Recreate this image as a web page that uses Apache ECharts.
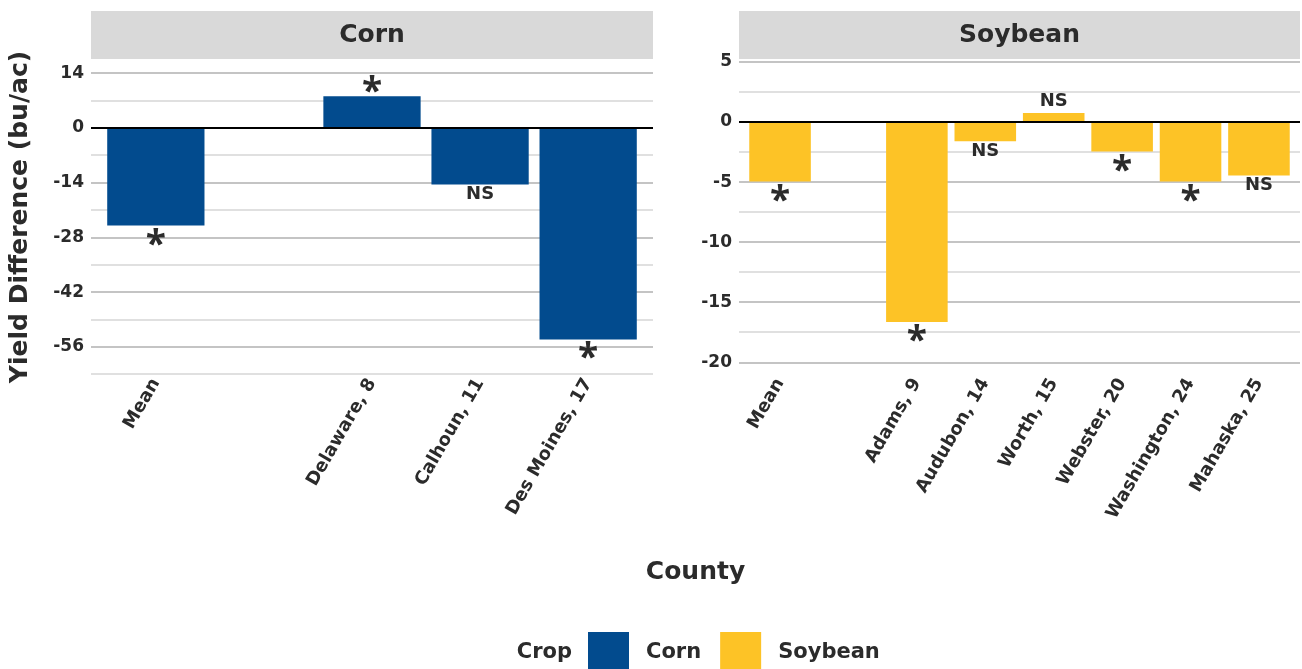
<!DOCTYPE html>
<html>
<head>
<meta charset="utf-8">
<script src="https://cdn.jsdelivr.net/npm/echarts@6/dist/echarts.min.js"></script>
<style>
html,body{margin:0;padding:0;background:#fff;}
#chart{width:1302px;height:669px;}
</style>
</head>
<body>
<div id="chart"></div>
<script>
// ---- data ----
const cornCounties = ['Mean', '', 'Delaware, 8', 'Calhoun, 11', 'Des Moines, 17'];
const cornYield = [-25.0, null, 8.1, -14.5, -54.1];
const cornSig = ['*', '', '*', 'NS', '*'];

const soyCounties = ['Mean', '', 'Adams, 9', 'Audubon, 14', 'Worth, 15', 'Webster, 20', 'Washington, 24', 'Mahaska, 25'];
const soyYield = [-4.95, null, -16.65, -1.6, 0.75, -2.45, -4.95, -4.45];
const soySig = ['*', '', '*', 'NS', 'NS', '*', '*', 'NS'];

const cornMajorTicks = [14, 0, -14, -28, -42, -56];
const cornMinorTicks = [7, -7, -21, -35, -49, -63];
const soyMajorTicks = [5, 0, -5, -10, -15, -20];
const soyMinorTicks = [2.5, -2.5, -7.5, -12.5, -17.5];

const crops = ['Corn', 'Soybean'];
const cropColors = ['#024b8e', '#fdc326'];

// ---- styling ----
const FONT = '"DejaVu Sans", sans-serif';
const STAR_FONT = '"Open Sans", sans-serif';
const TXT = '#2b2b2b';
const panels = [
  {left: 91, width: 562},
  {left: 739, width: 561}
];
const TOP = 59, HEIGHT = 316;
const yRanges = [[-63.2, 17.6], [-21.06, 5.25]];

function gridLines(major, minor) {
  const d = [];
  minor.forEach(v => d.push({yAxis: v, lineStyle: {color: '#d6d6d6', width: 1.5, type: 'solid'}}));
  major.forEach(v => d.push({yAxis: v, lineStyle: {color: '#c4c4c4', width: 2, type: 'solid'}}));
  return d;
}

function barData(values, sig) {
  const out = [];
  values.forEach((v, i) => {
    if (v === null) return;
    const star = sig[i] === '*';
    let pos, dist;
    if (v < 0) { pos = 'bottom'; dist = star ? 2 : 1; }
    else { pos = 'top'; dist = star ? -16 : 3; }
    out.push({
      value: [i, v],
      label: {
        show: true, position: pos, distance: dist,
        formatter: sig[i],
        fontSize: star ? 37 : 18,
        fontWeight: 'bold', fontFamily: star ? STAR_FONT : FONT, color: TXT
      }
    });
  });
  return out;
}

const cats = [cornCounties, soyCounties];
const vals = [cornYield, soyYield];
const sigs = [cornSig, soySig];
const majors = [cornMajorTicks, soyMajorTicks];
const minors = [cornMinorTicks, soyMinorTicks];

const option = {
  animation: false,
  backgroundColor: '#ffffff',
  legend: {
    data: crops,
    left: 588, top: 632, padding: 0,
    orient: 'horizontal',
    icon: 'rect',
    itemWidth: 41, itemHeight: 41,
    itemGap: 19,
    selectedMode: false,
    textStyle: {fontFamily: FONT, fontWeight: 'bold', fontSize: 21, color: TXT, padding: [0, 0, 0, 12]}
  },
  grid: panels.map(p => ({left: p.left, width: p.width, top: TOP, height: HEIGHT, containLabel: false})),
  xAxis: panels.map((p, k) => ({
    type: 'value', gridIndex: k,
    min: -0.6, max: cats[k].length - 0.4,
    axisLine: {show: false}, axisTick: {show: false}, splitLine: {show: false},
    axisLabel: {
      customValues: cats[k].map((c, i) => c ? i : null).filter(i => i !== null),
      formatter: v => cats[k][Math.round(v)] || '',
      rotate: 60, margin: 5,
      fontFamily: FONT, fontWeight: 'bold', fontSize: 18, color: TXT
    }
  })),
  yAxis: panels.map((p, k) => ({
    type: 'value', gridIndex: k,
    min: yRanges[k][0], max: yRanges[k][1],
    name: k === 0 ? 'Yield Difference (bu/ac)' : '',
    nameLocation: 'middle', nameRotate: 90, nameGap: 58,
    nameTextStyle: {fontFamily: FONT, fontWeight: 'bold', fontSize: 25, color: TXT},
    axisLine: {show: false}, axisTick: {show: false}, splitLine: {show: false},
    axisLabel: {
      customValues: majors[k],
      margin: 7,
      fontFamily: FONT, fontWeight: 'bold', fontSize: 17, color: TXT
    }
  })),
  series: []
};

panels.forEach((p, k) => {
  const slot = p.width / (cats[k].length + 0.2);
  option.series.push({
    name: crops[k],
    type: 'bar',
    xAxisIndex: k, yAxisIndex: k,
    barWidth: slot * 0.9,
    itemStyle: {color: cropColors[k]},
    data: barData(vals[k], sigs[k]),
    z: 2,
    markLine: {
      z: 1, silent: true, symbol: 'none', animation: false,
      label: {show: false},
      data: gridLines(majors[k], minors[k])
    }
  });
  option.series.push({
    name: crops[k] + '_zero',
    type: 'line',
    xAxisIndex: k, yAxisIndex: k,
    data: [],
    z: 5,
    markLine: {
      z: 6, silent: true, symbol: 'none', animation: false,
      label: {show: false},
      data: [{yAxis: 0, lineStyle: {color: '#000', width: 2, type: 'solid'}}]
    }
  });
});

option.graphic = [];
panels.forEach((p, k) => {
  option.graphic.push({
    type: 'rect', z: 100,
    shape: {x: p.left, y: 11, width: p.width, height: 48},
    style: {fill: '#d9d9d9'}
  });
  option.graphic.push({
    type: 'text', z: 101,
    x: p.left + p.width / 2, y: 35,
    style: {text: crops[k], fontFamily: FONT, fontWeight: 'bold', fontSize: 25, fill: TXT, align: 'center', verticalAlign: 'middle'}
  });
});
option.graphic.push({
  type: 'text', z: 101,
  x: (panels[0].left + panels[1].left + panels[1].width) / 2, y: 572,
  style: {text: 'County', fontFamily: FONT, fontWeight: 'bold', fontSize: 25, fill: TXT, align: 'center', verticalAlign: 'middle'}
});
option.graphic.push({
  type: 'text', z: 101,
  x: 572, y: 653,
  style: {text: 'Crop', fontFamily: FONT, fontWeight: 'bold', fontSize: 21, fill: TXT, align: 'right', verticalAlign: 'middle'}
});

const chart = echarts.init(document.getElementById('chart'), null, {renderer: 'canvas'});
chart.setOption(option);
</script>
</body>
</html>
